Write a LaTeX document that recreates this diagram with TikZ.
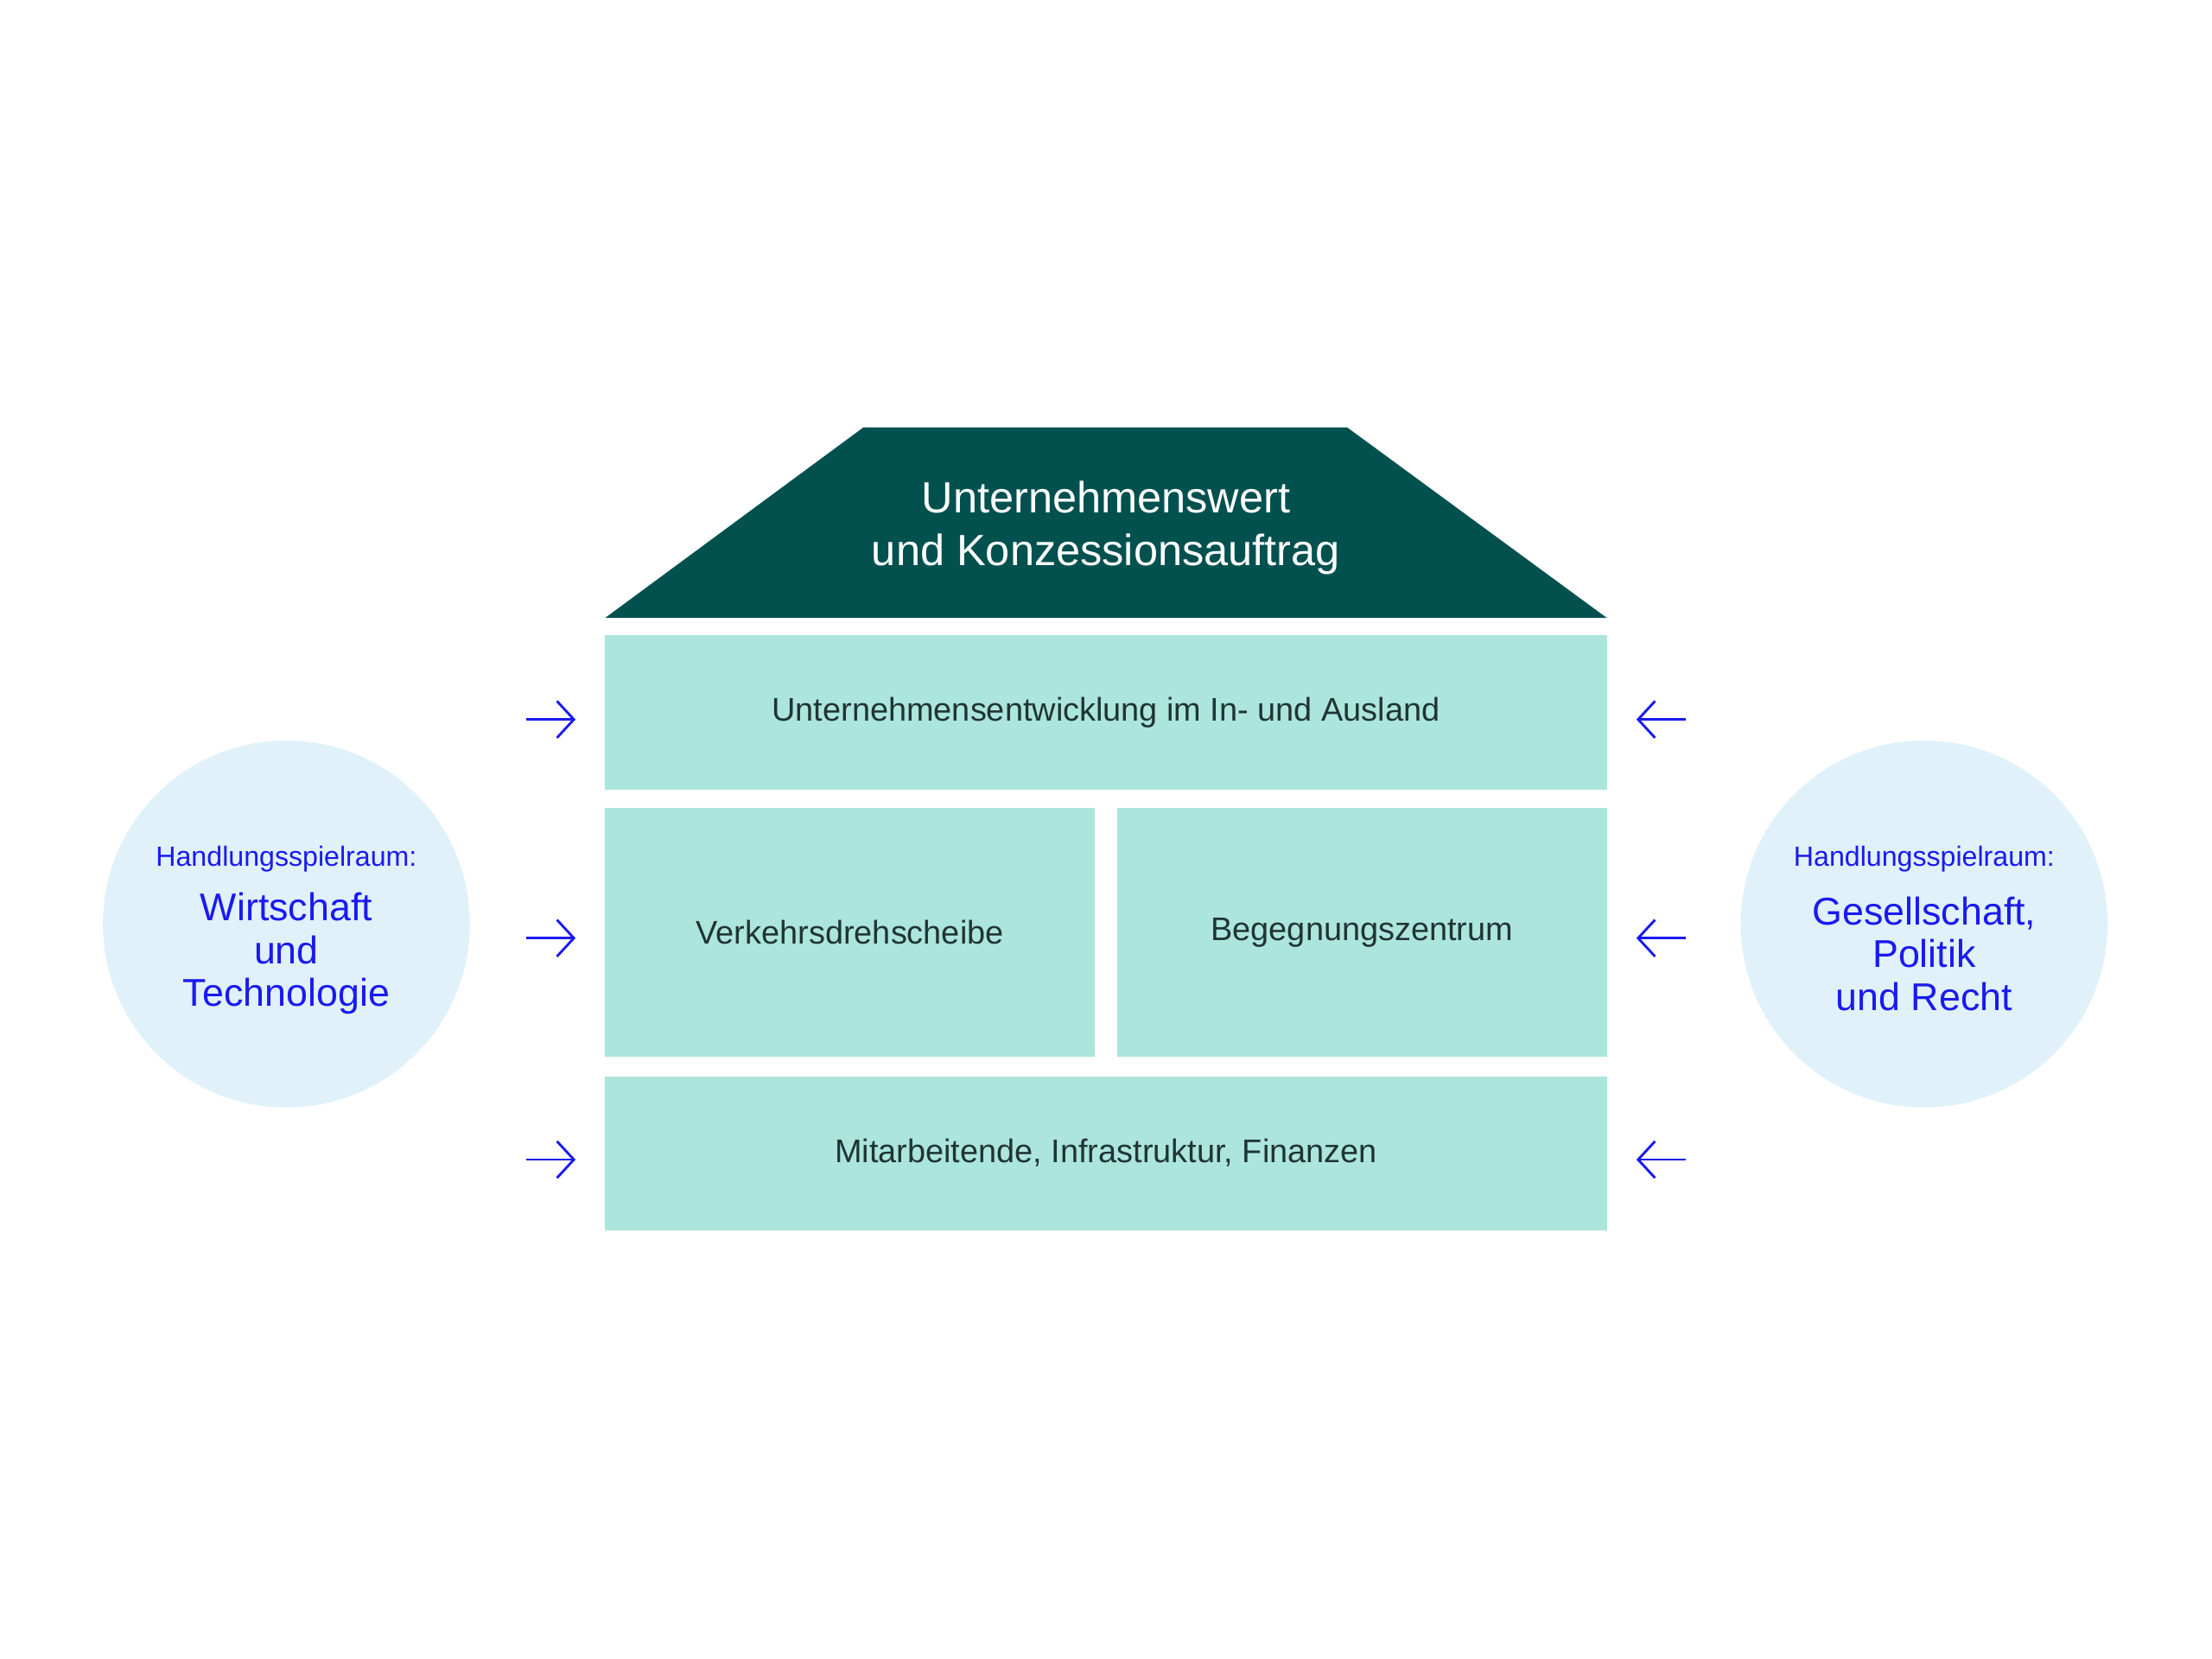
\documentclass[tikz,border=0pt]{standalone}
\usepackage{fontspec}
\setmainfont{Liberation Sans}
\usetikzlibrary{positioning,arrows.meta}
\definecolor{roofgreen}{HTML}{02514F}
\definecolor{blockmint}{HTML}{ACE5DC}
\definecolor{circleblue}{HTML}{E0F1FA}
\definecolor{textblue}{HTML}{1A1AF0}
\definecolor{textdark}{HTML}{1F3533}
\tikzset{
    block/.style={rectangle, fill=blockmint, text=textdark, font=\fontsize{6.6}{8}\selectfont, inner sep=0pt},
    field/.style={circle, fill=circleblue, minimum size=2.6cm, inner sep=0pt, text=textblue, align=center},
    line/.style={draw=textblue, line width=0.5pt, -{Straight Barb[length=1.2mm,width=2.6mm]}}
}
\begin{document}
\begin{tikzpicture}[x=0.01cm,y=-0.01cm]
    \useasboundingbox (0,0) rectangle (1568,1176);
    % Roof
    \fill[roofgreen] (612,303) -- (955,303) -- (1139,438) -- (429,438) -- cycle;
    \node [text=white, align=center, font=\fontsize{8.8}{10.6}\selectfont] (roof) at (784,374) {Unternehmenswert\\und Konzessionsauftrag};

    % Blocks
    \node [block, minimum width=7.1cm, minimum height=1.1cm] (ausland) at (784,505) {Unternehmensentwicklung im In- und Ausland};
    \node [block, minimum width=3.47cm, minimum height=1.76cm] (verkehr) at (602.5,661) {Verkehrsdrehscheibe};
    \node [block, minimum width=3.47cm, minimum height=1.76cm] (begegnung) at (965.5,661) {Begegnungszentrum};
    \node [block, minimum width=7.1cm, minimum height=1.09cm] (basis) at (784,817.5) {Mitarbeitende, Infrastruktur, Finanzen};

    % Fields of action
    \node [field] (wirtschaft) at (203,655) {};
    \node [text=textblue, align=center, font=\fontsize{5.6}{7}\selectfont] at (203,609) {Handlungsspielraum:};
    \node [text=textblue, align=center, font=\fontsize{7.8}{8.6}\selectfont] at (203,676) {Wirtschaft\\und\\Technologie};
    \node [field] (gesellschaft) at (1364,655) {};
    \node [text=textblue, align=center, font=\fontsize{5.6}{7}\selectfont] at (1364,609) {Handlungsspielraum:};
    \node [text=textblue, align=center, font=\fontsize{7.8}{8.6}\selectfont] at (1364,676) {Gesellschaft,\\Politik\\und Recht};

    % Arrows
    \foreach \y/\n in {510/l1,665/l2,822/l3} {
        \coordinate (a\n) at (373,\y);
        \coordinate (b\n) at (408,\y);
        \path [line] (a\n) -- (b\n);
    }
    \foreach \y/\n in {510/r1,665/r2,822/r3} {
        \coordinate (a\n) at (1195,\y);
        \coordinate (b\n) at (1160,\y);
        \path [line] (a\n) -- (b\n);
    }
\end{tikzpicture}
\end{document}
